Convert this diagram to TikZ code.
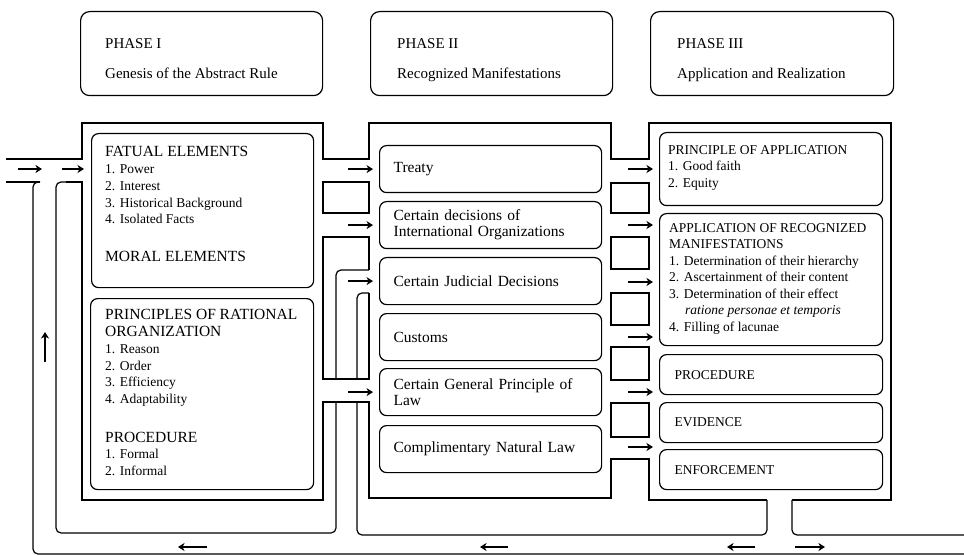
\documentclass[tikz,border=0pt]{standalone}
\usepackage{fontspec}
\setmainfont{Liberation Serif}
\usetikzlibrary{arrows.meta}

\newcommand\headtext[1]{{\fontsize{15.5}{16.7}\selectfont #1}}

\begin{document}
\begin{tikzpicture}[x=1pt,y=-1pt,
    wall/.style={line width=1.2pt},
    turnwall/.style={wall, rounded corners=5pt},
    flow/.style={line width=1.5pt, -{Stealth[length=6.5pt,width=8pt,inset=2pt]}},
    phasebox/.style={draw, line width=1.2pt, rounded corners=9pt, anchor=north west,
      minimum width=#1, minimum height=84pt, inner sep=0pt},
    box/.style={draw, line width=1.2pt, rounded corners=7pt, anchor=north west, inner sep=0pt},
    manifest/.style={box, minimum width=222pt, minimum height=47pt, text width=194pt,
      align=left, font=\fontsize{15.5}{16}\selectfont},
    applybox/.style={box, minimum width=223pt, minimum height=40pt, text width=193pt,
      align=left, font=\fontsize{13.5}{16}\selectfont},
    boxtext/.style={anchor=north west, inner sep=0pt, align=left,
      font=\fontsize{13.5}{16.7}\selectfont},
    phasetext/.style={anchor=north west, inner sep=0pt, align=left,
      font=\fontsize{15}{18}\selectfont}]
  \useasboundingbox (0,0) rectangle (964,556);

  % phases
  \node[phasebox=242pt] (phaseI) at (80,11) {};
  \node[phasebox=242pt] (phaseII) at (370,11) {};
  \node[phasebox=243pt] (phaseIII) at (650,11) {};
  \node[phasetext] (phaseItext) at ([shift={(25pt,-27pt)}]phaseI.north west)
    {PHASE I\\[12pt]Genesis of the Abstract Rule};
  \node[phasetext] (phaseIItext) at ([shift={(27pt,-27pt)}]phaseII.north west)
    {PHASE II\\[12pt]Recognized Manifestations};
  \node[phasetext] (phaseIIItext) at ([shift={(27pt,-27pt)}]phaseIII.north west)
    {PHASE III\\[12pt]Application and Realization};

  % frames and channels
  \draw[wall] (6,159) -- (82,159) -- (82,123) -- (323,123) -- (323,159) -- (369,159)
    -- (369,123) -- (611,123) -- (611,159) -- (649,159) -- (649,123) -- (891,123)
    -- (891,500) -- (792,500);
  \draw[wall] (6,182) -- (40,182);
  \draw[wall] (66,182) -- (82,182) -- (82,500) -- (323,500) -- (323,402) -- (369,402)
    -- (369,498) -- (611,498) -- (611,459) -- (649,459) -- (649,500) -- (767,500);
  \draw[wall] (323,182) rectangle (369,213);
  \draw[wall] (369,270) -- (369,237) -- (323,237) -- (323,379) -- (369,379) -- (369,293);
  \foreach \ya/\yb in {183/213, 237/269, 293/325, 347/380, 403/437}
    \draw[wall] (611,\ya) rectangle (649,\yb);
  \draw[turnwall] (40,182) -- (33,182) -- (33,554) -- (964,554);
  \draw[turnwall] (66,182) -- (56,182) -- (56,533) -- (336,533) -- (336,402);
  \draw[turnwall] (336,379) -- (336,270) -- (369,270);
  \draw[turnwall] (369,293) -- (357,293) -- (357,379);
  \draw[turnwall] (357,402) -- (357,535) -- (767,535) -- (767,500);
  \draw[turnwall] (792,500) -- (792,535) -- (964,535);

  % phase I
  \node[box, minimum width=222pt, minimum height=154pt] (fatual) at (91,133) {};
  \node[box, minimum width=223pt, minimum height=191pt] (rational) at (90,298) {};
  \node[boxtext] (fatualtext) at ([shift={(14pt,-13.5pt)}]fatual.north west)
    {\headtext{FATUAL ELEMENTS}\\
     1. Power\\
     2. Interest\\
     3. Historical Background\\
     4. Isolated Facts\\[21.5pt]
     \headtext{MORAL ELEMENTS}};
  \node[boxtext] (rationaltext) at ([shift={(15pt,-11.5pt)}]rational.north west)
    {\headtext{PRINCIPLES OF RATIONAL}\\
     \headtext{ORGANIZATION}\\
     1. Reason\\
     2. Order\\
     3. Efficiency\\
     4. Adaptability\\[22pt]
     \headtext{PROCEDURE}\\
     1. Formal\\
     2. Informal};

  % phase II
  \node[manifest] (treaty) at (379,145) {Treaty};
  \node[manifest] (decisions) at (379,201) {Certain decisions of\\International Organizations};
  \node[manifest] (judicial) at (379,257) {Certain Judicial Decisions};
  \node[manifest] (customs) at (379,313) {Customs};
  \node[manifest] (general) at (379,368) {Certain General Principle of\\Law};
  \node[manifest] (natural) at (379,425) {Complimentary Natural Law};

  % phase III
  \node[box, minimum width=223pt, minimum height=73pt] (principle) at (659,132) {};
  \node[box, minimum width=223pt, minimum height=132pt] (apply) at (659,213) {};
  \node[boxtext, font=\fontsize{13.5}{16.5}\selectfont] (principletext)
    at ([shift={(9pt,-13pt)}]principle.north west)
    {PRINCIPLE OF APPLICATION\\
     1. Good faith\\
     2. Equity};
  \node[boxtext, font=\fontsize{13.5}{16.5}\selectfont] (applytext)
    at ([shift={(10pt,-10pt)}]apply.north west)
    {APPLICATION OF RECOGNIZED\\
     MANIFESTATIONS\\
     1. Determination of their hierarchy\\
     2. Ascertainment of their content\\
     3. Determination of their effect\\
     \hspace*{16pt}\textit{ratione personae et temporis}\\
     4. Filling of lacunae};
  \node[applybox] (procedure) at (659,354) {PROCEDURE};
  \node[applybox] (evidence) at (659,402) {EVIDENCE};
  \node[applybox] (enforcement) at (659,449) {ENFORCEMENT};

  % flow arrows
  \coordinate (inlet) at (18,169);
  \coordinate (inletend) at (42,169);
  \coordinate (entry) at (62,169);
  \draw[flow] (inlet) -- (inletend);
  \draw[flow, shorten >=7pt] (entry) -- (entry -| fatual.west);
  \foreach \n in {treaty, decisions, judicial, general}
    \draw[flow] ([xshift=-31pt]\n.west) -- ([xshift=-6pt]\n.west);
  \foreach \y in {169, 225, 282, 337, 392, 447} {
    \coordinate (tail) at (628,\y);
    \draw[flow, shorten >=6pt] (tail) -- (tail -| apply.west);
  }
  \coordinate (upfrom) at (45,362);
  \coordinate (upto) at (45,332);
  \draw[flow] (upfrom) -- (upto);
  \coordinate (backA) at (207,547);
  \coordinate (backAend) at (178,547);
  \coordinate (backB) at (508,547);
  \coordinate (backBend) at (480,547);
  \coordinate (backC) at (755,547);
  \coordinate (backCend) at (727,547);
  \coordinate (outlet) at (795,547);
  \coordinate (outletend) at (825,547);
  \draw[flow] (backA) -- (backAend);
  \draw[flow] (backB) -- (backBend);
  \draw[flow] (backC) -- (backCend);
  \draw[flow] (outlet) -- (outletend);
\end{tikzpicture}
\end{document}
